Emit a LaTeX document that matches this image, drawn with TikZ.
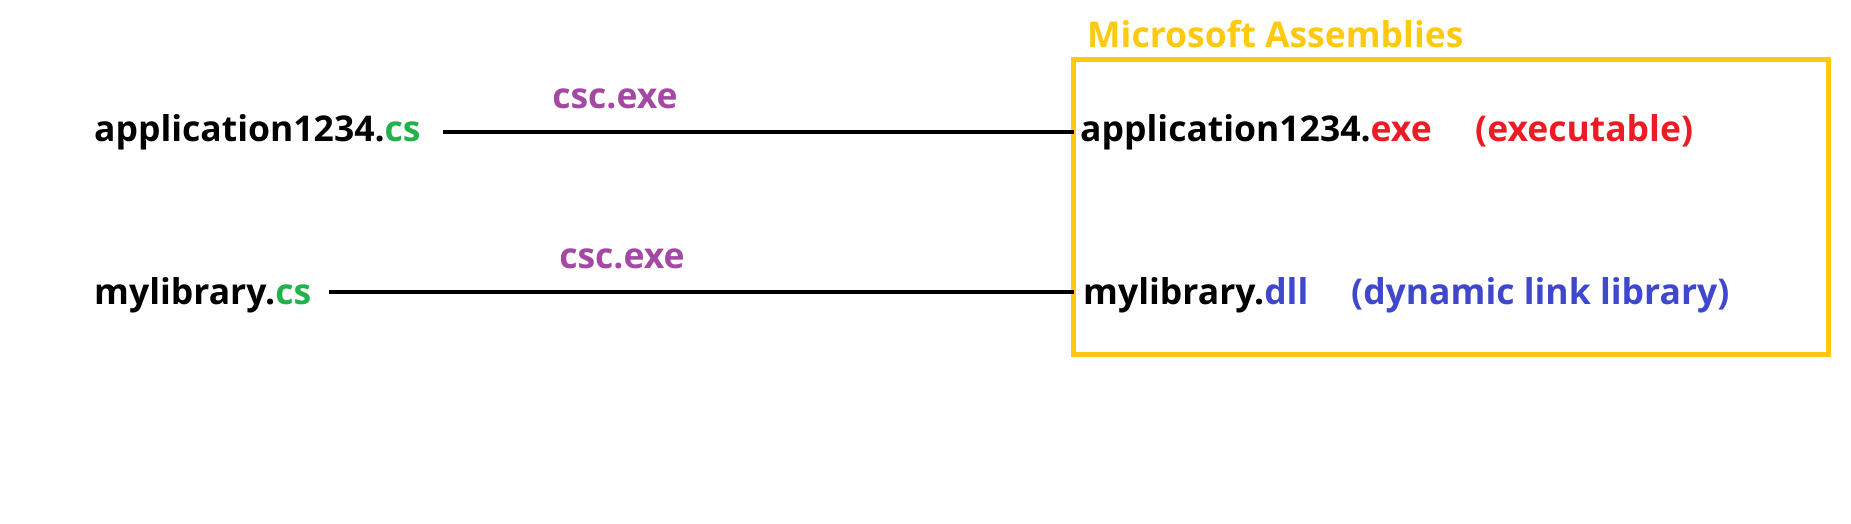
\documentclass[tikz,border=0pt]{standalone}
\usepackage{fontspec}
\setmainfont{Open Sans}
\definecolor{csgreen}{RGB}{34,177,76}
\definecolor{exered}{RGB}{237,28,36}
\definecolor{dllblue}{RGB}{63,72,204}
\definecolor{cscpurple}{RGB}{163,73,164}
\definecolor{amber}{RGB}{255,201,14}
\begin{document}
\begin{tikzpicture}[x=1pt,y=-1pt,
  txt/.style={font=\bfseries\fontsize{35.5}{42}\selectfont, inner sep=0pt, anchor=base west},
  conn/.style={line width=4.5pt}]
\useasboundingbox (0,0) rectangle (1851,523);
\node[draw=amber, line width=5pt, outer sep=0pt, minimum width=755pt, minimum height=295pt, inner sep=0pt, anchor=north west] (box) at (1073.5,59.5) {};
\node[txt, text=amber] (title) at (1087,47) {Microsoft Assemblies};
\node[txt] (app) at (94,141) {application1234.\textcolor{csgreen}{cs}};
\node[txt] (lib) at (94,304) {mylibrary.\textcolor{csgreen}{cs}};
\node[txt] (appexe) at (1080,141) {application1234.\textcolor{exered}{exe}};
\node[txt, text=exered] (exec) at (1475,141) {(executable)};
\node[txt] (libdll) at (1083,304) {mylibrary.\textcolor{dllblue}{dll}};
\node[txt, text=dllblue] (dyn) at (1351,304) {(dynamic link library)};
\coordinate (a1) at (443,132);
\coordinate (b1) at (329,292);
\draw[conn] (a1) -- (a1 -| box.west);
\draw[conn] (b1) -- (b1 -| box.west);
\node[txt, anchor=base, text=cscpurple] (csc1) at (615,108) {csc.exe};
\node[txt, anchor=base, text=cscpurple] (csc2) at (622,268) {csc.exe};
\end{tikzpicture}
\end{document}
